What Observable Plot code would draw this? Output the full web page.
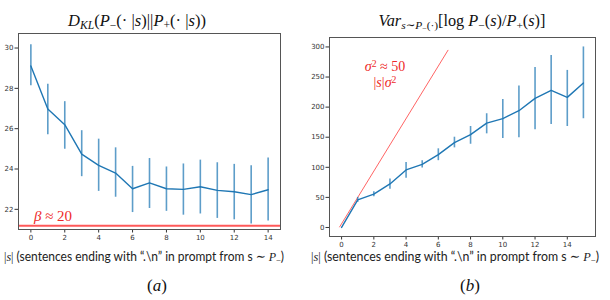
<!DOCTYPE html>
<html><head><meta charset="utf-8">
<script src="https://cdn.jsdelivr.net/npm/d3@7"></script>
<script src="https://cdn.jsdelivr.net/npm/@observablehq/plot@0.6"></script>
<style>
body{margin:0;background:#fff;}
#root{position:relative;width:610px;height:300px;overflow:hidden;background:#fff;}
.svgbox{position:absolute;top:0;}
.abs{position:absolute;white-space:nowrap;transform:translate(-50%,-50%);line-height:1;}
.math{font-family:"Liberation Serif","DejaVu Serif",serif;}
.lab{font-family:Lato,"Open Sans",sans-serif;font-size:13.5px;color:#222;}
.red{color:#ee2a2a;}
sub{font-size:70%;vertical-align:-0.25em;line-height:0;}
sup{font-size:70%;vertical-align:0.45em;line-height:0;}
</style>
</head><body>
<div id="root">
  <div class="svgbox" id="plotA" style="left:0;"></div>
  <div class="svgbox" id="plotB" style="left:305px;"></div>

  <div class="abs math fit" data-w="138" style="left:137px;top:21px;font-size:15px;color:#111;"><i>D</i><sub><i>KL</i></sub>(<i>P</i><sub>−</sub>(· |<i>s</i>)||<i>P</i><sub>+</sub>(· |<i>s</i>))</div>
  <div class="abs math fit" data-w="167" style="left:462px;top:21px;font-size:15px;color:#111;"><i>Var</i><sub><i>s</i>∼<i>P</i><sub>−</sub>(·)</sub>[log <i>P</i><sub>−</sub>(<i>s</i>)/<i>P</i><sub>+</sub>(<i>s</i>)]</div>

  <div class="abs lab squeeze" data-w="280" style="left:144px;top:257px;"><span class="math">|<i>s</i>|</span> (sentences ending with “.\n” in prompt from s <span class="math">∼ <i>P</i><sub>−</sub></span>)</div>
  <div class="abs lab squeeze" data-w="288" style="left:455px;top:257px;"><span class="math">|<i>s</i>|</span> (sentences ending with “.\n” in prompt from s <span class="math">∼ <i>P</i><sub>−</sub></span>)</div>

  <div class="abs math" style="left:157px;top:285px;font-size:17px;color:#111;">(<i>a</i>)</div>
  <div class="abs math" style="left:470px;top:285px;font-size:17px;color:#111;">(<i>b</i>)</div>

  <div class="abs math red" style="left:53px;top:216px;font-size:15px;"><i>β</i> ≈ 20</div>
  <div class="abs math red" style="left:385px;top:67px;font-size:14px;"><i>σ</i><sup>2</sup> ≈ 50</div>
  <div class="abs math red" style="left:385px;top:83px;font-size:14px;">|<i>s</i>|<i>σ</i><sup>2</sup></div>
</div>
<script>
// ---- Panel (a): KL divergence vs |s| ----
const stepsA = [0,1,2,3,4,5,6,7,8,9,10,11,12,13,14];
const klMean = [29.11,26.98,26.2,24.74,24.18,23.8,23.02,23.31,23.02,22.99,23.12,22.94,22.87,22.73,22.97];
const klLow  = [28.13,25.7,24.98,23.62,22.89,22.6,21.84,22.04,21.9,21.71,21.77,21.55,21.48,21.27,21.42];
const klHigh = [30.16,28.2,27.34,25.9,25.48,25.05,24.13,24.52,24.1,24.25,24.44,24.31,24.23,24.16,24.54];
const betaLine = [21.18];
const xTicksA = [0,2,4,6,8,10,12,14];
const yTicksA = [22,24,26,28,30];

// ---- Panel (b): variance vs |s| ----
const stepsB = [0,1,2,3,4,5,6,7,8,9,10,11,12,13,14,15];
const varMean = [0,46,55.5,72.3,95.6,105,121,141,154.3,173.3,181,194,214.5,227.8,216.2,240];
const varLow  = [0,41.7,51.2,63.4,81.7,99,111,132.3,138.3,155.6,147.8,149,162.3,171.2,167.8,180.7];
const varHigh = [0,50,59.5,80.7,107.8,111,130.7,150,167.8,189,212.8,235,265.7,285.7,261,300];
const sigmaX = [-0.12,6.6];
const sigmaY = [1,294.5];
const xTicksB = [0,2,4,6,8,10,12,14];
const yTicksB = [0,50,100,150,200,250,300];

const blue = "#1f77b4";
const axisStyle = {fontFamily:"DejaVu Sans", fontSize:"7px", color:"#333", background:"transparent", overflow:"visible"};

const dataA = stepsA.map((s,i)=>({s, m:klMean[i], lo:klLow[i], hi:klHigh[i]}));
const plotA = Plot.plot({
  width:305, height:250, marginLeft:18, marginRight:25, marginTop:33, marginBottom:21,
  style:axisStyle,
  x:{domain:[-0.73,14.73], ticks:xTicksA, tickSize:3.5, tickPadding:2, label:null},
  y:{domain:[21.0,30.72], ticks:yTicksA, tickSize:3.5, tickPadding:1.5, label:null},
  marks:[
    Plot.ruleY(betaLine, {stroke:"#ff3030", strokeOpacity:0.8, strokeWidth:2}),
    Plot.ruleX(dataA, {x:"s", y1:"lo", y2:"hi", stroke:blue, strokeOpacity:0.72, strokeWidth:1.6}),
    Plot.line(dataA, {x:"s", y:"m", stroke:blue, strokeWidth:1.4}),
    Plot.frame({stroke:"#555", strokeWidth:1})
  ]
});
document.getElementById("plotA").appendChild(plotA);

const dataB = stepsB.map((s,i)=>({s, m:varMean[i], lo:varLow[i], hi:varHigh[i]}));
const sigmaData = sigmaX.map((x,i)=>({x, y:sigmaY[i]}));
const plotB = Plot.plot({
  width:305, height:260, marginLeft:24, marginRight:15, marginTop:37, marginBottom:24,
  style:axisStyle,
  x:{domain:[-0.75,15.75], ticks:xTicksB, tickSize:3.5, tickPadding:2, label:null},
  y:{domain:[-15,315.7], ticks:yTicksB, tickSize:3.5, tickPadding:1.5, label:null},
  marks:[
    Plot.line(sigmaData, {x:"x", y:"y", stroke:"#ff3030", strokeOpacity:0.75, strokeWidth:1}),
    Plot.ruleX(dataB, {x:"s", y1:"lo", y2:"hi", stroke:blue, strokeOpacity:0.72, strokeWidth:1.6}),
    Plot.line(dataB, {x:"s", y:"m", stroke:blue, strokeWidth:1.4}),
    Plot.frame({stroke:"#555", strokeWidth:1})
  ]
});
document.getElementById("plotB").appendChild(plotB);

// fit annotation texts to the widths measured on the reference
document.querySelectorAll(".fit").forEach(el => {
  const target = +el.dataset.w;
  const fs = parseFloat(getComputedStyle(el).fontSize);
  const w = el.getBoundingClientRect().width;
  if (w > 0) el.style.fontSize = (fs * target / w).toFixed(2) + "px";
});
// keep x-label glyph height, compress horizontally to the reference width
document.querySelectorAll(".squeeze").forEach(el => {
  const target = +el.dataset.w;
  const w = el.getBoundingClientRect().width;
  if (w > 0) el.style.transform = `translate(-50%,-50%) scaleX(${(target / w).toFixed(4)})`;
});
</script>
</body></html>
